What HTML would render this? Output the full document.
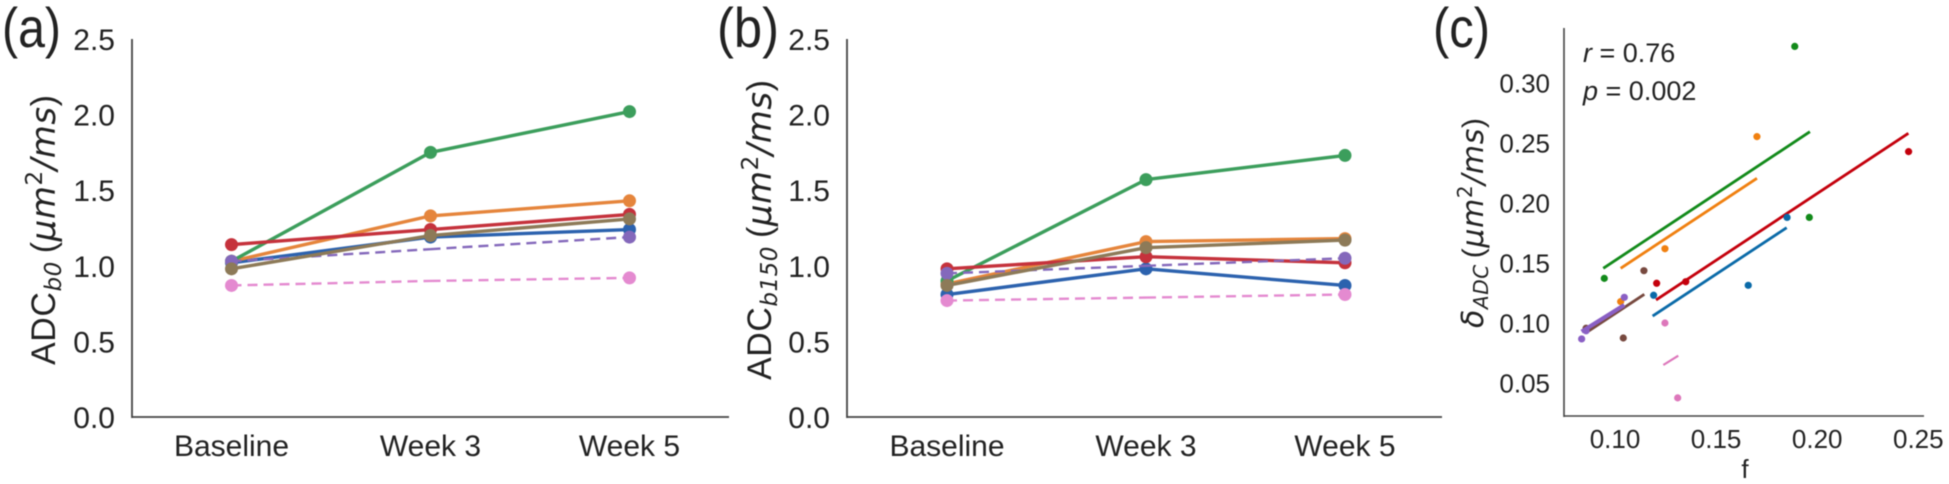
<!DOCTYPE html>
<html>
<head>
<meta charset="utf-8">
<title>ADC charts</title>
<style>
html,body{margin:0;padding:0;background:#fff;width:1949px;height:484px;overflow:hidden}
svg{display:block;filter:blur(0.55px)}
text{font-family:"Liberation Sans",sans-serif;fill:#222}
.math{font-family:"DejaVu Sans",sans-serif;font-style:italic}
</style>
</head>
<body>
<svg id="chart" width="1949" height="484" viewBox="0 0 1949 484" xmlns="http://www.w3.org/2000/svg">
  <text x="2" y="47" font-size="56" textLength="59" lengthAdjust="spacingAndGlyphs">(a)</text>
  <text x="717" y="47" font-size="56" textLength="62" lengthAdjust="spacingAndGlyphs">(b)</text>
  <text x="1433" y="47" font-size="56" textLength="57" lengthAdjust="spacingAndGlyphs">(c)</text>

  <text transform="translate(55,365) rotate(-90)" font-size="34" textLength="270">ADC<tspan class="math" font-size="23" dy="6">b0</tspan><tspan dy="-6" dx="8">(</tspan><tspan class="math">μm</tspan><tspan font-size="23" dy="-13" class="math" style="font-style:normal">2</tspan><tspan class="math" dy="13">/ms</tspan><tspan>)</tspan></text>
  <text transform="translate(771,380) rotate(-90)" font-size="34" textLength="300">ADC<tspan class="math" font-size="23" dy="6">b150</tspan><tspan dy="-6" dx="8">(</tspan><tspan class="math">μm</tspan><tspan font-size="23" dy="-13" class="math" style="font-style:normal">2</tspan><tspan class="math" dy="13">/ms</tspan><tspan>)</tspan></text>
  <text transform="translate(1483,328) rotate(-90)" font-size="30" textLength="210"><tspan class="math">δ</tspan><tspan class="math" font-size="20" dy="5">ADC</tspan><tspan dy="-5" dx="6">(</tspan><tspan class="math">μm</tspan><tspan font-size="20" dy="-11" class="math" style="font-style:normal">2</tspan><tspan class="math" dy="11">/ms</tspan><tspan>)</tspan></text>

  <text x="1583" y="62" font-size="27"><tspan font-style="italic">r</tspan> = 0.76</text>
  <text x="1583" y="100" font-size="27"><tspan font-style="italic">p</tspan> = 0.002</text>
  <text x="1745" y="478" font-size="26" text-anchor="middle">f</text>
</svg>

<script>
// Shared categories and tick labels
const timepoints = ['Baseline', 'Week 3', 'Week 5'];
const adcTicks = ['0.0', '0.5', '1.0', '1.5', '2.0', '2.5'];
const fTicks = ['0.10', '0.15', '0.20', '0.25'];
const deltaTicks = ['0.05', '0.10', '0.15', '0.20', '0.25', '0.30'];

// Panel (a) ADC b0 series
const a_blue = [1.02, 1.19, 1.24];
const a_orange = [1.03, 1.33, 1.43];
const a_green = [1.03, 1.75, 2.02];
const a_red = [1.14, 1.24, 1.34];
const a_purple = [1.03, 1.11, 1.19];
const a_brown = [0.98, 1.20, 1.31];
const a_pink = [0.87, 0.90, 0.92];

// Panel (b) ADC b150 series
const b_blue = [0.81, 0.98, 0.87];
const b_orange = [0.88, 1.16, 1.18];
const b_green = [0.90, 1.57, 1.73];
const b_red = [0.98, 1.06, 1.02];
const b_purple = [0.95, 1.00, 1.05];
const b_brown = [0.87, 1.12, 1.17];
const b_pink = [0.77, 0.79, 0.81];

// Panel (c) scatter points
const c_green_f = [0.1889, 0.1961, 0.0947];
const c_green_d = [0.3305, 0.188, 0.1372];
const c_orange_f = [0.1702, 0.1247, 0.1028];
const c_orange_d = [0.2553, 0.1619, 0.1178];
const c_red_f = [0.2452, 0.1206, 0.135];
const c_red_d = [0.2428, 0.1331, 0.1344];
const c_blue_f = [0.1851, 0.1659, 0.1191];
const c_blue_d = [0.188, 0.1314, 0.1231];
const c_brown_f = [0.1143, 0.1041, 0.0857];
const c_brown_d = [0.1436, 0.0875, 0.0956];
const c_purple_f = [0.1046, 0.0835, 0.0857];
const c_purple_d = [0.1214, 0.0867, 0.0935];
const c_pink_f = [0.1247, 0.131];
const c_pink_d = [0.1, 0.0376];

// Panel (c) fitted line endpoints
const fit_green_f = [0.0942, 0.1964];
const fit_green_d = [0.1456, 0.2594];
const fit_orange_f = [0.1028, 0.1702];
const fit_orange_d = [0.1456, 0.2206];
const fit_red_f = [0.1203, 0.2451];
const fit_red_d = [0.1192, 0.2581];
const fit_blue_f = [0.1186, 0.1849];
const fit_blue_d = [0.1058, 0.1794];
const fit_brown_f = [0.0857, 0.1145];
const fit_brown_d = [0.0919, 0.1239];
const fit_purple_f = [0.0835, 0.1046];
const fit_purple_d = [0.0928, 0.115];
const fit_pink_f = [0.1239, 0.1313];
const fit_pink_d = [0.065, 0.0728];

const svg = document.getElementById('chart');
const NS = 'http://www.w3.org/2000/svg';

function drawLine(x1, y1, x2, y2, color, width, dash, name) {
  const el = document.createElementNS(NS, 'line');
  
  
  el.setAttribute('x1', x1);
  el.setAttribute('y1', y1);
  el.setAttribute('x2', x2);
  el.setAttribute('y2', y2);
  el.setAttribute('stroke', color);
  el.setAttribute('stroke-width', width);
  if (dash) el.setAttribute('stroke-dasharray', dash);
  svg.appendChild(el);
}
function drawDot(x, y, r, color, name) {
  const el = document.createElementNS(NS, 'circle');
  
  
  el.setAttribute('cx', x);
  el.setAttribute('cy', y);
  el.setAttribute('r', r);
  el.setAttribute('fill', color);
  svg.appendChild(el);
}
function drawLabel(x, y, str, size, anchor, name) {
  const el = document.createElementNS(NS, 'text');
  
  
  el.setAttribute('x', x);
  el.setAttribute('y', y);
  el.setAttribute('font-size', size);
  el.setAttribute('text-anchor', anchor);
  el.textContent = str;
  svg.appendChild(el);
}

const adcY = v => 417 - v * 151.2;

function drawPanel(id, axisX, axisEnd, firstX, series) {
  const xScale = i => firstX + i * 199;
  drawLine(axisX, 39, axisX, 418, '#444', 1.8, null, 'y-axis-' + id);
  drawLine(axisX, 417, axisEnd, 417, '#444', 1.8, null, 'x-axis-' + id);
  adcTicks.forEach(t => drawLabel(axisX - 17, adcY(parseFloat(t)) + 11, t, 30, 'end', 'y-tick-' + id + '-' + t));
  timepoints.forEach((t, i) => drawLabel(xScale(i), 456, t, 30, 'middle', 'x-tick-' + id + '-' + i));
  series.forEach(s => {
    s.values.forEach((v, i) => {
      if (i > 0) drawLine(xScale(i - 1), adcY(s.values[i - 1]), xScale(i), adcY(v), s.color, s.dash ? 2.4 : 3.4, s.dash, 'line-' + id + '-' + s.name);
    });
    // The dashed (control) series show markers only at the two end timepoints
    s.values.forEach((v, i) => {
      if (!(s.dash && i === 1)) drawDot(xScale(i), adcY(v), 6.5, s.color, 'point-' + id + '-' + s.name + '-' + i);
    });
  });
}

const lineColors = {blue:'#2c62ae', orange:'#e5853c', green:'#3c9e5c', red:'#c5323c', purple:'#8468bb', brown:'#8d7a58', pink:'#e48ad0'};

drawPanel('a', 132, 729, 231.5, [
  {name:'blue', color:lineColors.blue, values:a_blue},
  {name:'orange', color:lineColors.orange, values:a_orange},
  {name:'green', color:lineColors.green, values:a_green},
  {name:'red', color:lineColors.red, values:a_red},
  {name:'purple', color:lineColors.purple, values:a_purple, dash:'10 6'},
  {name:'brown', color:lineColors.brown, values:a_brown},
  {name:'pink', color:lineColors.pink, values:a_pink, dash:'10 6'}
]);
drawPanel('b', 847, 1442, 947, [
  {name:'blue', color:lineColors.blue, values:b_blue},
  {name:'orange', color:lineColors.orange, values:b_orange},
  {name:'green', color:lineColors.green, values:b_green},
  {name:'red', color:lineColors.red, values:b_red},
  {name:'purple', color:lineColors.purple, values:b_purple, dash:'10 6'},
  {name:'brown', color:lineColors.brown, values:b_brown},
  {name:'pink', color:lineColors.pink, values:b_pink, dash:'10 6'}
]);

// Panel (c)
const cX = f => 1615 + (f - 0.1) * 2022;
const cY = d => 383 - (d - 0.05) * 1200;
drawLine(1564, 28, 1564, 417, '#444', 1.6, null, 'y-axis-c');
drawLine(1564, 416, 1924, 416, '#444', 1.6, null, 'x-axis-c');
deltaTicks.forEach(t => drawLabel(1550, cY(parseFloat(t)) + 9.5, t, 26, 'end', 'y-tick-c-' + t));
fTicks.forEach(t => drawLabel(cX(parseFloat(t)), 448, t, 26, 'middle', 'x-tick-c-' + t));

const scatterGroups = [
  {name:'green', color:'#128a1a', f:c_green_f, d:c_green_d, ff:fit_green_f, fd:fit_green_d, w:2.8},
  {name:'orange', color:'#f08010', f:c_orange_f, d:c_orange_d, ff:fit_orange_f, fd:fit_orange_d, w:2.8},
  {name:'red', color:'#c4000c', f:c_red_f, d:c_red_d, ff:fit_red_f, fd:fit_red_d, w:2.8},
  {name:'blue', color:'#0a6aa8', f:c_blue_f, d:c_blue_d, ff:fit_blue_f, fd:fit_blue_d, w:2.8},
  {name:'brown', color:'#77493f', f:c_brown_f, d:c_brown_d, ff:fit_brown_f, fd:fit_brown_d, w:2.8},
  {name:'purple', color:'#8a5fc4', f:c_purple_f, d:c_purple_d, ff:fit_purple_f, fd:fit_purple_d, w:4.2},
  {name:'pink', color:'#dd77bb', f:c_pink_f, d:c_pink_d, ff:fit_pink_f, fd:fit_pink_d, w:2.2}
];
scatterGroups.forEach(g => {
  drawLine(cX(g.ff[0]), cY(g.fd[0]), cX(g.ff[1]), cY(g.fd[1]), g.color, g.w, null, 'fit-line-' + g.name);
  g.f.forEach((f, i) => drawDot(cX(f), cY(g.d[i]), 3.6, g.color, 'scatter-point-' + g.name + '-' + i));
});
</script>
</body>
</html>
